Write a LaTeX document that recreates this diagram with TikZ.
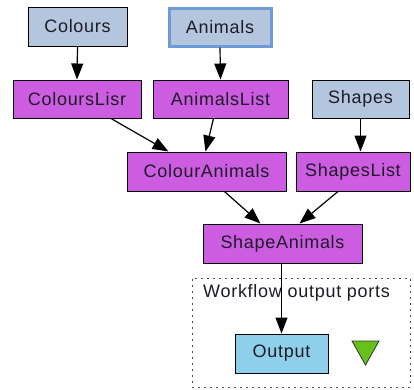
\documentclass[tikz,border=0pt]{standalone}
\usepackage{fontspec}
\setmainfont{Liberation Sans}[LetterSpace=4]
\usetikzlibrary{arrows.meta}
\definecolor{inputfill}{HTML}{B4C6DE}
\definecolor{procfill}{HTML}{CC5CE0}
\definecolor{outfill}{HTML}{8ED0EA}
\definecolor{selblue}{HTML}{6E9AD8}
\definecolor{trigreen}{HTML}{66C21A}
\definecolor{txt}{HTML}{1E1A28}
\begin{document}
\begin{tikzpicture}[x=1pt,y=-1pt,
  box/.style={draw=black, line width=1pt, inner sep=0pt, text=txt,
    font=\fontsize{18}{21}\selectfont},
  inbox/.style={box, fill=inputfill},
  procbox/.style={box, fill=procfill},
  outbox/.style={box, fill=outfill},
  conn/.style={draw=black, line width=1.2pt, -{Triangle[length=16pt,width=12pt]}}]
\useasboundingbox (0,0) rectangle (414,389);
\fill[white] (0,0) rectangle (414,389);

\node[inbox, minimum width=99pt, minimum height=39pt] (colours) at (77.5,26.5) {Colours};
\node[inbox, draw=selblue, line width=3pt, minimum width=102pt, minimum height=38pt] (animals) at (220,27) {Animals};
\node[procbox, minimum width=128pt, minimum height=38pt] (colourslisr) at (77,99) {ColoursLisr};
\node[procbox, minimum width=135pt, minimum height=38pt] (animalslist) at (220.5,99) {AnimalsList};
\node[inbox, minimum width=97pt, minimum height=38pt] (shapes) at (360.5,99) {Shapes};
\node[procbox, minimum width=159pt, minimum height=39pt] (colouranimals) at (206.5,171.5) {ColourAnimals};
\node[procbox, minimum width=114pt, minimum height=39pt] (shapeslist) at (353,171.5) {ShapesList};
\node[procbox, minimum width=159pt, minimum height=39pt] (shapeanimals) at (282.5,243.5) {ShapeAnimals};

\node[draw=black!70, dash pattern=on 2pt off 4pt, line width=1pt, minimum width=218pt, minimum height=109pt, inner sep=0pt] (ports) at (301,332.5) {};
\node[anchor=north west, inner sep=0pt, text=txt, font=\fontsize{18}{21}\selectfont] (portslabel) at (203,284) {Workflow output ports};
\node[outbox, minimum width=93pt, minimum height=39pt] (output) at (281.5,353.5) {Output};
\fill[trigreen, draw=black!80, line width=0.8pt] (352,341) -- (379,341) -- (365.5,365) -- cycle;

\draw[conn] (colours.south) -- (colourslisr.north);
\draw[conn] (animals.south) -- (animalslist.north);
\draw[conn] (shapes.south) -- (shapeslist.north -| shapes.south);
\draw[conn] ([xshift=34pt]colourslisr.south) -- ([xshift=-38pt]colouranimals.north);
\draw[conn] ([xshift=-7pt]animalslist.south) -- ([xshift=-1pt]colouranimals.north);
\draw[conn] ([xshift=18pt]colouranimals.south) -- ([xshift=-22pt]shapeanimals.north);
\draw[conn] ([xshift=-15pt]shapeslist.south) -- ([xshift=17pt]shapeanimals.north);
\draw[conn] (shapeanimals.south -| output.north) -- (output.north);
\end{tikzpicture}
\end{document}
